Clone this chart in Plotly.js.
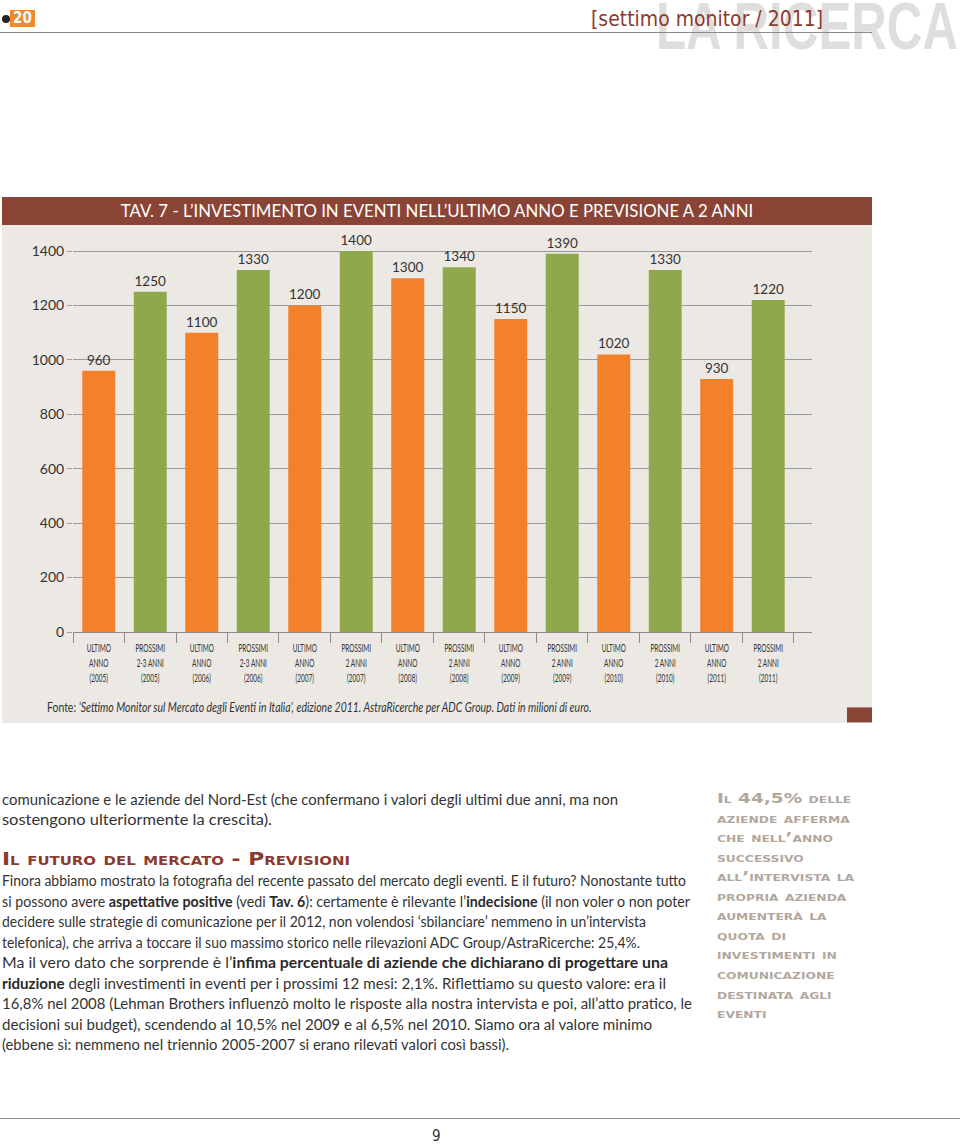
<!DOCTYPE html>
<html><head><meta charset="utf-8">
<script src="https://cdn.plot.ly/plotly-3.0.1.min.js"></script>
<style>
html,body{margin:0;padding:0;background:#fff;}
body{width:960px;height:1145px;position:relative;overflow:hidden;font-family:Lato,"Open Sans",sans-serif;color:#333;}
.abs{position:absolute;white-space:nowrap;}
.fit{display:inline-block;transform-origin:0 50%;}
#chart{position:absolute;left:2px;top:197px;width:870px;height:526px;}
.ln{font-size:14.5px;line-height:20px;height:20px;color:#333;}
.ln b{font-weight:700;color:#2a2a2a;}
.head{font-family:"DejaVu Sans",sans-serif;font-weight:bold;font-variant:small-caps;color:#8B3A2F;font-size:17.5px;line-height:20px;}
.side{font-family:"DejaVu Sans",sans-serif;font-weight:bold;font-variant:small-caps;color:#B2A79C;font-size:13.5px;line-height:20px;height:20px;}
</style></head>
<body>
<!-- header -->
<div class="abs" style="left:656px;top:-9px;"><span class="fit" data-w="302" style="font-family:'Liberation Sans','DejaVu Sans',sans-serif;font-weight:bold;font-size:66px;line-height:70px;color:#E0DEDC;">LA RICERCA</span></div>
<div class="abs" style="left:0;top:32px;width:872px;height:1px;background:#8a8a8a;"></div>
<div class="abs" style="left:591px;top:4px;"><span class="fit" data-w="232" style="font-family:'DejaVu Sans Condensed','DejaVu Sans',sans-serif;font-size:22px;line-height:30px;color:#8B3A2F;">[settimo monitor / 2011]</span></div>
<div class="abs" style="left:2px;top:15px;width:8px;height:8px;border-radius:50%;background:#222;"></div>
<div class="abs" style="left:10px;top:10px;width:25px;height:17px;background:#F08A2C;color:#fff;font-family:'DejaVu Sans Condensed',sans-serif;font-weight:bold;font-size:15px;line-height:17px;text-align:center;">20</div>

<div id="chart"></div>

<!-- body text -->
<div id="body"></div>
<div class="abs head" style="left:2px;top:849px;"><span class="fit" data-w="348">Il futuro del mercato - Previsioni</span></div>
<div id="side"></div>

<div class="abs" style="left:0;top:1118px;width:960px;height:1px;background:#8f8f8f;"></div>
<div class="abs" style="left:432px;top:1127px;font-family:'DejaVu Sans Condensed',sans-serif;font-size:15px;color:#333;">9</div>

<script>
// ---- chart data ----
var categories = [
  "ULTIMO<br>ANNO<br>(2005)", "PROSSIMI<br>2-3 ANNI<br>(2005)",
  "ULTIMO<br>ANNO<br>(2006)", "PROSSIMI<br>2-3 ANNI<br>(2006)",
  "ULTIMO<br>ANNO<br>(2007)", "PROSSIMI<br>2 ANNI<br>(2007)",
  "ULTIMO<br>ANNO<br>(2008)", "PROSSIMI<br>2 ANNI<br>(2008)",
  "ULTIMO<br>ANNO<br>(2009)", "PROSSIMI<br>2 ANNI<br>(2009)",
  "ULTIMO<br>ANNO<br>(2010)", "PROSSIMI<br>2 ANNI<br>(2010)",
  "ULTIMO<br>ANNO<br>(2011)", "PROSSIMI<br>2 ANNI<br>(2011)"
];
var values = [960, 1250, 1100, 1330, 1200, 1400, 1300, 1340, 1150, 1390, 1020, 1330, 930, 1220];
var seriesType = ["ultimo","prossimi","ultimo","prossimi","ultimo","prossimi","ultimo","prossimi","ultimo","prossimi","ultimo","prossimi","ultimo","prossimi"];
var yTicks = [0, 200, 400, 600, 800, 1000, 1200, 1400];

// ---- page text ----
var bodyLines = [
  "comunicazione e le aziende del Nord-Est (che confermano i valori degli ultimi due anni, ma non",
  "sostengono ulteriormente la crescita).",
  "Finora abbiamo mostrato la fotografia del recente passato del mercato degli eventi. E il futuro? Nonostante tutto",
  "si possono avere <b>aspettative positive</b> (vedi <b>Tav. 6</b>): certamente è rilevante l’<b>indecisione</b> (il non voler o non poter",
  "decidere sulle strategie di comunicazione per il 2012, non volendosi ‘sbilanciare’ nemmeno in un’intervista",
  "telefonica), che arriva a toccare il suo massimo storico nelle rilevazioni ADC Group/AstraRicerche: 25,4%.",
  "Ma il vero dato che sorprende è l’<b>infima percentuale di aziende che dichiarano di progettare una</b>",
  "<b>riduzione</b> degli investimenti in eventi per i prossimi 12 mesi: 2,1%. Riflettiamo su questo valore: era il",
  "16,8% nel 2008 (Lehman Brothers influenzò molto le risposte alla nostra intervista e poi, all’atto pratico, le",
  "decisioni sui budget), scendendo al 10,5% nel 2009 e al 6,5% nel 2010. Siamo ora al valore minimo",
  "(ebbene sì: nemmeno nel triennio 2005-2007 si erano rilevati valori così bassi)."
];
var bodyCenters = [800, 820, 881, 901.5, 922, 942.5, 963, 983.5, 1004, 1024.5, 1045];
var bodyWidths = [616, 270, 684, 688, 644, 638, 666, 664, 690, 650, 507];

var sideLines = ["Il 44,5% delle","aziende afferma","che nell’anno","successivo","all’intervista la","propria azienda","aumenterà la","quota di","investimenti in","comunicazione","destinata agli","eventi"];

var bodyEl = document.getElementById("body");
bodyLines.forEach(function(t, i){
  var d = document.createElement("div");
  d.className = "abs ln";
  d.style.left = "2px"; d.style.top = (bodyCenters[i] - 10) + "px";
  d.innerHTML = '<span class="fit" data-w="' + bodyWidths[i] + '">' + t + '</span>';
  bodyEl.appendChild(d);
});
var sideEl = document.getElementById("side");
sideLines.forEach(function(t, i){
  var d = document.createElement("div");
  d.className = "abs side";
  d.style.left = "717px"; d.style.top = (798 + i * 19.55 - 10) + "px";
  d.innerHTML = '<span class="sfit">' + t + '</span>';
  sideEl.appendChild(d);
});
// fit html text widths
document.querySelectorAll(".fit").forEach(function(s){
  var w = s.getBoundingClientRect().width, tw = parseFloat(s.getAttribute("data-w"));
  if (w > 0) s.style.transform = "scaleX(" + (tw / w) + ")";
});
(function(){
  var spans = document.querySelectorAll(".sfit"), ref = spans[4];
  var sc = 137 / ref.getBoundingClientRect().width;
  spans.forEach(function(s){ s.style.display = "inline-block"; s.style.transformOrigin = "0 50%"; s.style.transform = "scaleX(" + sc + ")"; });
})();

// ---- chart ----
var typeColor = {ultimo: "#F2812A", prossimi: "#8FA84B"};
var W = 870, H = 526, mL = 71, mR = 60, mT = 35, mB = 90.5;
var pw = W - mL - mR, ph = H - mT - mB;
function px(xd){ return (xd - mL) / pw; }
function py(yd){ return (H - mB - yd) / ph; }

var trace = {
  type: "bar",
  x: categories,
  y: values,
  marker: {color: seriesType.map(function(t){ return typeColor[t]; })},
  width: 0.64,
  text: values.map(String),
  textposition: "outside",
  textfont: {family: "Lato, 'Open Sans', sans-serif", size: 13.5, color: "#333"},
  cliponaxis: false,
  hoverinfo: "skip"
};

var layout = {
  width: W, height: H,
  margin: {l: mL, r: mR, t: mT, b: mB, pad: 0},
  paper_bgcolor: "#ECE9E4",
  plot_bgcolor: "rgba(0,0,0,0)",
  showlegend: false,
  title: {
    text: "TAV. 7 - L’INVESTIMENTO IN EVENTI NELL’ULTIMO ANNO E PREVISIONE A 2 ANNI",
    font: {family: "Lato, 'Open Sans', sans-serif", size: 18, color: "#ffffff"},
    x: (437 - 2 - mL) / pw, xref: "paper", xanchor: "center",
    y: 1 - 14 / H, yref: "container", yanchor: "middle"
  },
  xaxis: {
    type: "category",
    range: [-0.5, 13.85],
    tickangle: 0,
    ticklabelstandoff: 5,
    showline: true, linecolor: "#8c8c8c", linewidth: 1,
    ticks: "outside", tickson: "boundaries", ticklen: 10, tickcolor: "#8c8c8c", tickwidth: 1,
    tickfont: {family: "Lato, sans-serif", size: 11.5, color: "#333"},
    showgrid: false, fixedrange: true
  },
  yaxis: {
    range: [0, 1470],
    tickvals: yTicks,
    ticktext: yTicks.map(String),
    showgrid: true, gridcolor: "#9a9a9a", gridwidth: 1,
    showline: false, zeroline: false,
    ticks: "outside", ticklen: 5, tickcolor: "#9a9a9a",
    tickfont: {family: "Lato, 'Open Sans', sans-serif", size: 14, color: "#333"},
    fixedrange: true
  },
  shapes: [
    {type: "rect", xref: "paper", yref: "paper", x0: px(0), x1: px(W), y0: py(28), y1: py(0),
     fillcolor: "#8A4436", line: {width: 0}, layer: "below"},
    {type: "rect", xref: "paper", yref: "paper", x0: px(845), x1: px(W), y0: py(526), y1: py(511),
     fillcolor: "#8A4436", line: {width: 0}, layer: "below"}
  ],
  annotations: [
    {xref: "paper", yref: "paper", x: px(43), y: py(511), xanchor: "left", yanchor: "middle",
     showarrow: false, align: "left",
     text: "Fonte: <i>‘Settimo Monitor sul Mercato degli Eventi in Italia’, edizione 2011. AstraRicerche per ADC Group. Dati in milioni di euro.</i>",
     font: {family: "Lato, 'Open Sans', sans-serif", size: 12.5, color: "#333"}}
  ]
};

function squeeze(el, s, anchor){
  var b = el.getBBox();
  var cx = anchor === "left" ? b.x : b.x + b.width / 2;
  var t = el.getAttribute("transform") || "";
  el.setAttribute("transform", t + " translate(" + cx + ",0) scale(" + s + ",1) translate(" + (-cx) + ",0)");
}

Plotly.newPlot("chart", [trace], layout, {displayModeBar: false, staticPlot: true}).then(function(gd){
  gd.querySelectorAll(".xtick text").forEach(function(el){ squeeze(el, 0.56, "center"); });
  var tt = gd.querySelector(".gtitle");
  if (tt) { var bw = tt.getBBox().width; squeeze(tt, 633 / bw, "center"); }
  var an = gd.querySelector(".annotation-text");
  if (an) { var aw = an.getBBox().width; squeeze(an, 545 / aw, "left"); }
});
</script>
</body></html>
